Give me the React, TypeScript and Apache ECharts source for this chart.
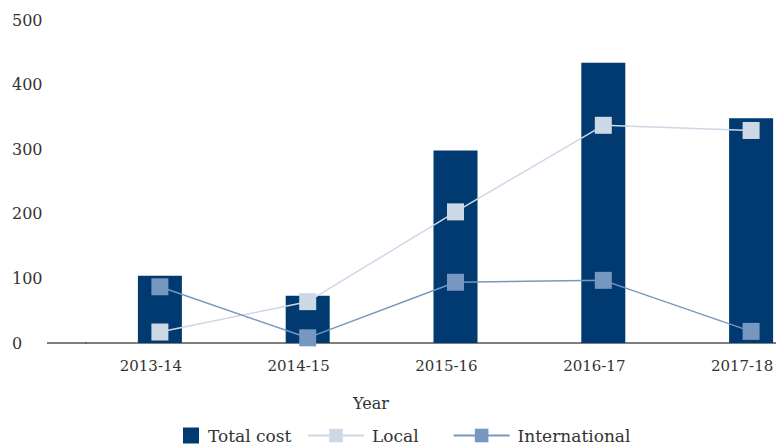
import React, { useEffect, useRef } from "react";
import * as echarts from "echarts";

const categories = ["2013-14", "2014-15", "2015-16", "2016-17", "2017-18"];
const totalCost = [104, 73, 298, 434, 348];
const local = [17, 64, 203, 337, 329];
const international = [87, 8, 94, 97, 18];
const yTicks = [0, 100, 200, 300, 400, 500];

const FONT = "DejaVu Serif";
const TEXT = "#333333";

export default function App() {
  const ref = useRef<HTMLDivElement>(null);
  useEffect(() => {
    document.body.style.margin = "0";
    if (!ref.current) return;
    const chart = echarts.init(ref.current, undefined, { renderer: "svg" });
    chart.setOption({
      animation: false,
      textStyle: { fontFamily: FONT, color: TEXT },
      grid: [
        { left: 86, right: -49, top: 20, bottom: 102, outerBoundsMode: "none" },
        { left: 77, right: -40, top: 20, bottom: 102, outerBoundsMode: "none" },
      ],
      title: {
        text: "Year",
        left: 371,
        top: 395,
        padding: 0,
        textAlign: "center",
        textStyle: { fontFamily: FONT, fontSize: 16, fontWeight: "normal", color: TEXT },
      },
      legend: [
        {
          data: ["Total cost"],
          left: 183,
          top: 427,
          padding: 0,
          itemWidth: 16,
          itemHeight: 16,
          icon: "rect",
          textStyle: { fontFamily: FONT, fontSize: 17, color: TEXT, padding: [0, 0, 0, 4] },
        },
        {
          data: ["Local", "International"],
          left: 307,
          top: 427,
          padding: 0,
          itemWidth: 56,
          itemHeight: 17,
          itemGap: 34,
          textStyle: { fontFamily: FONT, fontSize: 17, color: TEXT, padding: [0, 0, 0, 3] },
        },
      ],
      xAxis: [
        {
          type: "category",
          data: categories,
          gridIndex: 0,
          axisLine: { show: true, lineStyle: { color: "#555555", width: 1.5 } },
          axisTick: { show: false },
          axisLabel: { show: false },
        },
        {
          type: "category",
          data: categories,
          gridIndex: 1,
          axisLine: { show: false },
          axisTick: { show: false },
          axisLabel: { fontFamily: FONT, fontSize: 15, color: TEXT, margin: 15 },
        },
      ],
      yAxis: [
        {
          type: "value",
          gridIndex: 0,
          min: yTicks[0],
          max: yTicks[yTicks.length - 1],
          interval: 100,
          axisLine: { show: false },
          axisTick: { show: false },
          splitLine: { show: false },
          axisLabel: { fontFamily: FONT, fontSize: 16, color: TEXT, align: "left", margin: 74 },
        },
        {
          type: "value",
          gridIndex: 1,
          min: yTicks[0],
          max: yTicks[yTicks.length - 1],
          show: false,
        },
      ],
      graphic: [
        {
          type: "line",
          shape: { x1: 47, y1: 343, x2: 87, y2: 343 },
          style: { stroke: "#555555", lineWidth: 1.5 },
        },
      ],
      series: [
        {
          name: "Total cost",
          type: "bar",
          data: totalCost,
          barWidth: 44,
          itemStyle: { color: "#003a70" },
        },
        {
          name: "Local",
          type: "line",
          data: local,
          symbol: "rect",
          symbolSize: 17,
          itemStyle: { color: "#cdd8e6" },
          lineStyle: { color: "#cdd8e6", width: 1.5 },
        },
        {
          name: "International",
          type: "line",
          data: international,
          symbol: "rect",
          symbolSize: 17,
          itemStyle: { color: "#7698c0" },
          lineStyle: { color: "#7698c0", width: 1.5 },
        },
      ],
    });
    return () => chart.dispose();
  }, []);
  return <div ref={ref} style={{ width: 776, height: 445, overflow: "hidden" }} />;
}
